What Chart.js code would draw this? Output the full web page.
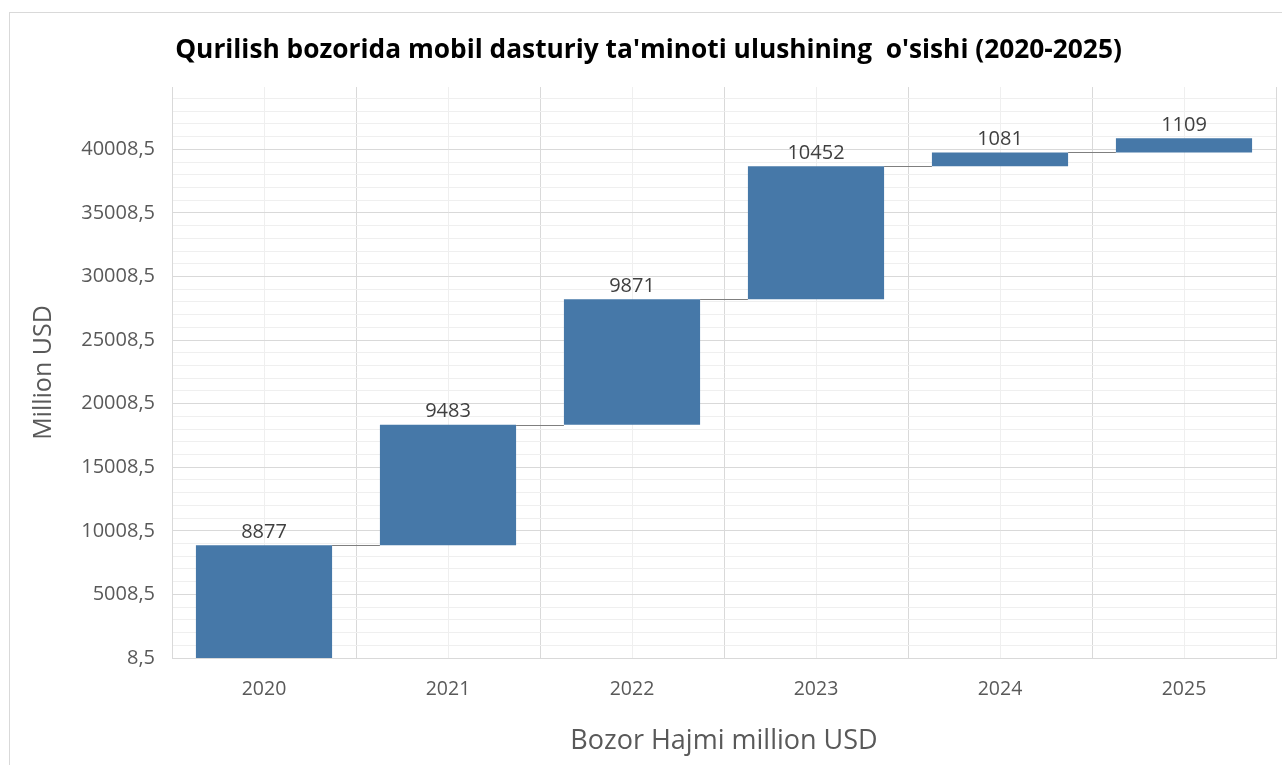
<!DOCTYPE html>
<html>
<head>
<meta charset="utf-8">
<script src="https://cdn.jsdelivr.net/npm/chart.js@4"></script>
<style>
  html, body { margin: 0; padding: 0; background: #fff; overflow: hidden; }
  #wrap { position: relative; width: 1282px; height: 765px; }
  #frame { position: absolute; left: 9px; top: 12px; width: 1400px; height: 900px;
           border: 1px solid #d9d9d9; pointer-events: none; }
</style>
</head>
<body>
<div id="wrap">
  <canvas id="chart" width="1282" height="765"></canvas>
  <div id="frame"></div>
</div>
<script>
const years = ["2020", "2021", "2022", "2023", "2024", "2025"];
const increments = [8877, 9483, 9871, 10452, 1081, 1109];
const majorTicks = [8.5, 5008.5, 10008.5, 15008.5, 20008.5, 25008.5, 30008.5, 35008.5, 40008.5];
const yMin = 8.5;
const yMax = 44908.5;
const minorStep = 1000;

const fontFamily = "'Open Sans', 'Noto Sans', sans-serif";
const barColor = "#4678a8";

// running totals for the floating bars
const ends = [];
increments.reduce((sum, v) => { ends.push(sum + v); return sum + v; }, 0);
const ranges = increments.map((v, i) => [ends[i] - v, ends[i]]);

const waterfallExtras = {
  id: "waterfallExtras",
  afterDatasetsDraw(chart) {
    const { ctx } = chart;
    const meta = chart.getDatasetMeta(0);
    const y = chart.scales.y;
    ctx.save();
    ctx.strokeStyle = "#7f7f7f";
    ctx.lineWidth = 1;
    meta.data.forEach((bar, i) => {
      const next = meta.data[i + 1];
      if (!next) return;
      const py = Math.round(y.getPixelForValue(ends[i])) + 0.5;
      ctx.beginPath();
      ctx.moveTo(bar.x + bar.width / 2, py);
      ctx.lineTo(next.x - next.width / 2, py);
      ctx.stroke();
    });
    ctx.fillStyle = "#404040";
    ctx.font = `20px ${fontFamily}`;
    ctx.textAlign = "center";
    ctx.textBaseline = "alphabetic";
    meta.data.forEach((bar, i) => {
      ctx.fillText(String(increments[i]), bar.x, y.getPixelForValue(ends[i]) - 7.5);
    });
    ctx.restore();
  }
};

new Chart(document.getElementById("chart"), {
  type: "bar",
  data: {
    labels: years,
    datasets: [{
      label: "Bozor Hajmi",
      data: ranges,
      backgroundColor: barColor,
      borderWidth: 0,
      barPercentage: 0.74,
      categoryPercentage: 1,
      xAxisID: "x",
      yAxisID: "y"
    }]
  },
  options: {
    responsive: false,
    animation: false,
    layout: { padding: { left: 21, right: 6, top: 0, bottom: 0 } },
    plugins: {
      legend: { display: false },
      tooltip: { enabled: false },
      title: {
        display: true,
        text: "Qurilish bozorida mobil dasturiy ta'minoti ulushining  o'sishi (2020-2025)",
        color: "#000",
        font: { family: fontFamily, size: 26.3, weight: "bold" },
        padding: { top: 35, bottom: 20.5 }
      }
    },
    scales: {
      x: {
        grid: { color: "#d9d9d9", drawTicks: false, offset: true },
        border: { color: "#d9d9d9" },
        ticks: { color: "#595959", font: { family: fontFamily, size: 19.5 }, padding: 20 },
        title: {
          display: true,
          text: "Bozor Hajmi million USD",
          color: "#595959",
          font: { family: fontFamily, size: 27 },
          padding: { top: 4, bottom: 7 }
        },
        afterFit(scale) { scale.height = 107; }
      },
      xMid: {
        type: "linear",
        position: "bottom",
        offset: false,
        min: -0.5,
        max: years.length - 0.5,
        afterBuildTicks(scale) { scale.ticks = years.map((_, i) => ({ value: i })); },
        grid: { color: "#efefef", drawTicks: false, offset: false },
        border: { display: false },
        ticks: { display: false }
      },
      y: {
        min: yMin,
        max: yMax,
        afterBuildTicks(scale) {
          const ticks = [];
          for (let v = yMin; v <= yMax; v += minorStep) ticks.push({ value: v });
          scale.ticks = ticks;
        },
        grid: {
          drawTicks: false,
          color: (c) => majorTicks.includes(c.tick.value) ? "#d9d9d9" : "#efefef"
        },
        border: { color: "#d9d9d9" },
        ticks: {
          autoSkip: false,
          color: "#595959",
          font: { family: fontFamily, size: 20 },
          padding: 17,
          callback: (v) => majorTicks.includes(v) ? String(v).replace(".", ",") : ""
        },
        title: {
          display: true,
          text: "Million USD",
          color: "#595959",
          font: { family: fontFamily, size: 25 },
          padding: { top: 8, bottom: 4 }
        },
        afterFit(scale) { scale.width = 151; }
      }
    }
  },
  plugins: [waterfallExtras]
});
</script>
</body>
</html>
